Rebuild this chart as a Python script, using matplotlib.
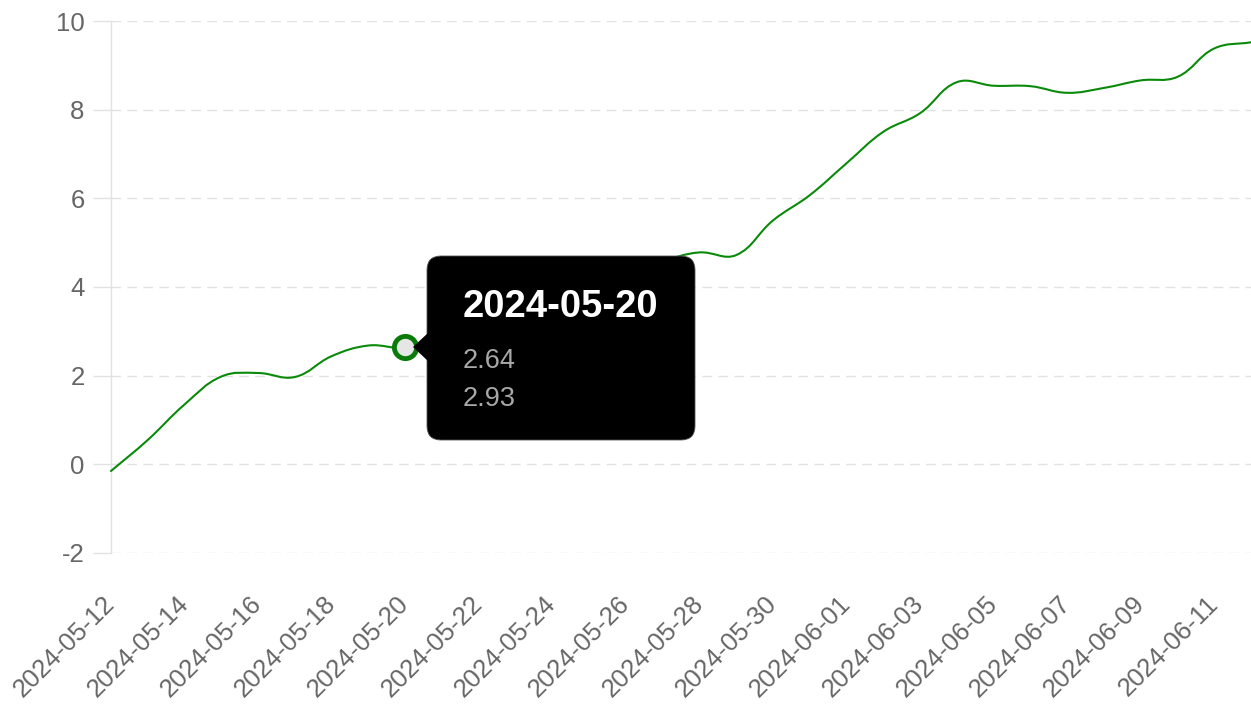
import matplotlib
matplotlib.use("Agg")
import matplotlib.pyplot as plt
import matplotlib.dates as mdates
from matplotlib.patches import FancyBboxPatch, Polygon, PathPatch
from matplotlib.path import Path
import numpy as np
import datetime as dt

plt.rcParams['font.family'] = ['Liberation Sans', 'DejaVu Sans']

# ---- data ----
start = dt.date(2024, 5, 12)
dates = [start + dt.timedelta(days=i) for i in range(32)]
values = [-0.15, 0.55, 1.35, 1.98, 2.06, 1.97, 2.44, 2.68, 2.64, 2.93,
          3.30, 3.62, 3.95, 4.22, 4.45, 4.60, 4.78, 4.72, 5.50, 6.07,
          6.79, 7.50, 7.92, 8.62, 8.54, 8.53, 8.38, 8.49, 8.66, 8.74,
          9.38, 9.52]
tick_dates = dates[::2]
tick_labels = [d.strftime("%Y-%m-%d") for d in tick_dates]
y_ticks = [-2, 0, 2, 4, 6, 8, 10]
tooltip_title = "2024-05-20"
tooltip_lines = ["2.64", "2.93"]
hover_index = 8

W, H = 1251, 710
fig = plt.figure(figsize=(W / 100, H / 100), dpi=100)
ax = fig.add_axes([111 / W, (H - 553) / H, (W - 111) / W, (553 - 21) / H])

grey_grid = "#e2e2e2"
label_col = "#666666"
line_col = "#0a8a0a"

ax.set_xlim(dates[0], dates[-1])
ax.set_ylim(-2, 10)

# smooth curve through the data points (spline with tension, like the source chart)
xd = mdates.date2num(dates)
pts = ax.transData.transform(np.column_stack([xd, values]))
tension = 0.4
n = len(pts)
verts = [pts[0]]
codes = [Path.MOVETO]
cps_prev = [None] * n
cps_next = [None] * n
for i in range(n):
    prev = pts[i - 1] if i > 0 else pts[i]
    nxt = pts[i + 1] if i < n - 1 else pts[i]
    cur = pts[i]
    d01 = np.hypot(*(cur - prev))
    d12 = np.hypot(*(nxt - cur))
    tot = d01 + d12 if (d01 + d12) > 0 else 1
    s01, s12 = d01 / tot, d12 / tot
    cps_prev[i] = cur - tension * s01 * (nxt - prev)
    cps_next[i] = cur + tension * s12 * (nxt - prev)
for i in range(1, n):
    verts += [cps_next[i - 1], cps_prev[i], pts[i]]
    codes += [Path.CURVE4] * 3
verts = ax.transData.inverted().transform(np.array(verts))
curve = PathPatch(Path(verts, codes), facecolor="none", edgecolor=line_col,
                  lw=1.5, zorder=3, transform=ax.transData, clip_on=False,
                  capstyle="round", joinstyle="round")
ax.add_patch(curve)
ax.plot([dates[hover_index]], [values[hover_index]], marker="o", ms=16,
        mfc="#e6e6e6", mec="#0a7a0a", mew=3.5, zorder=5, clip_on=False)

ax.set_yticks(y_ticks)
ax.set_yticklabels([str(v) for v in y_ticks])
ax.set_xticks(tick_dates)
ax.set_xticklabels(tick_labels, rotation=45, ha="right", va="center",
                   rotation_mode="anchor")

for s in ["top", "right", "bottom"]:
    ax.spines[s].set_visible(False)
ax.spines["left"].set_color(grey_grid)
ax.spines["left"].set_linewidth(1.0)

ax.yaxis.grid(True, color=grey_grid, lw=1.0, dashes=(7, 4.5))
ax.xaxis.grid(False)
ax.set_axisbelow(True)
ax.tick_params(axis="y", length=13, width=1.0, color=grey_grid, pad=6,
               labelsize=18.5, labelcolor=label_col)
ax.tick_params(axis="x", length=0, pad=34, labelsize=18.5, labelcolor=label_col)

# ---- tooltip (pixel coordinates) ----
def py(y_top):
    return H - y_top

box = FancyBboxPatch((427 + 14, py(440) + 14), 268 - 28, 184 - 28,
                     boxstyle="round,pad=14", transform=None,
                     facecolor="black", edgecolor="#555555", lw=0.6, zorder=10)
fig.patches.append(box)
tri = Polygon([[413, py(347)], [428, py(333)], [428, py(361)]], closed=True,
              transform=None, facecolor="black", edgecolor="none", zorder=11)
fig.patches.append(tri)
fig.text(463 / W, py(317) / H, tooltip_title, color="white", fontsize=27.5,
         fontweight="bold", ha="left", va="baseline", zorder=12)
fig.text(463 / W, py(368) / H, tooltip_lines[0], color="#a8a8a8", fontsize=19.5,
         ha="left", va="baseline", zorder=12)
fig.text(463 / W, py(406) / H, tooltip_lines[1], color="#a8a8a8", fontsize=19.5,
         ha="left", va="baseline", zorder=12)

fig.savefig("out.png", dpi=100)
